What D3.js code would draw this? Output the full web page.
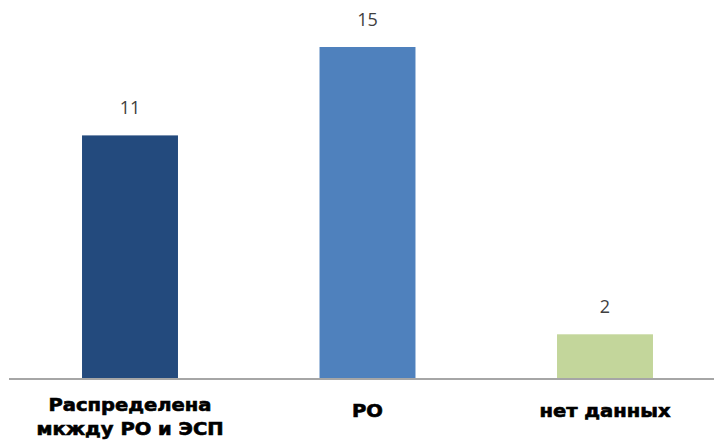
<!DOCTYPE html>
<html><head><meta charset="utf-8">
<script src="https://cdn.jsdelivr.net/npm/d3@7"></script>
<style>html,body{margin:0;padding:0;background:#fff;}svg{display:block;}</style>
</head><body>
<svg id="c" width="714" height="443"></svg>
<script>
const categories = [["Распределена", "мкжду РО и ЭСП"], ["РО"], ["нет данных"]];
const values = [11, 15, 2];
const colors = ["#234A7D", "#4F81BD", "#C3D69B"];

const svg = d3.select("#c");
const baseY = 378.5;
const x = d3.scaleBand().domain(d3.range(values.length)).range([11.25, 723.75]).paddingInner(0.596).paddingOuter(0.298);
const y = d3.scaleLinear().domain([0, 15]).range([baseY, 47]);

svg.selectAll("rect.bar").data(values).join("rect")
  .attr("class", "bar")
  .attr("x", (d, i) => x(i))
  .attr("width", x.bandwidth())
  .attr("y", d => y(d))
  .attr("height", d => baseY - y(d))
  .attr("fill", (d, i) => colors[i]);

svg.append("line").attr("x1", 9).attr("x2", 714).attr("y1", baseY + 0.5).attr("y2", baseY + 0.5)
  .attr("stroke", "#a6a6a6").attr("stroke-width", 2);

svg.selectAll("text.val").data(values).join("text")
  .attr("class", "val")
  .attr("x", (d, i) => x(i) + x.bandwidth() / 2)
  .attr("y", d => y(d) - 26)
  .attr("text-anchor", "middle")
  .attr("dominant-baseline", "middle")
  .attr("font-family", "Open Sans, sans-serif")
  .attr("font-size", 18)
  .attr("fill", "#404040")
  .text(d => d);

const lab = svg.selectAll("g.cat").data(categories).join("g")
  .attr("class", "cat")
  .attr("transform", (d, i) => `translate(${x(i) + x.bandwidth() / 2},0) scale(1.15,1)`);
lab.append("text")
  .attr("text-anchor", "middle")
  .attr("font-family", "DejaVu Sans, sans-serif")
  .attr("font-weight", "bold")
  .attr("font-size", 17)
  .attr("fill", "#000")
  .attr("stroke", "#000")
  .attr("stroke-width", 0.6)
  .selectAll("tspan").data(d => d.map((t, j) => ({t, j, n: d.length}))).join("tspan")
  .attr("x", 0)
  .attr("y", d => (d.n > 1 ? 411 : 417) + d.j * 24)
  .text(d => d.t);
</script>
</body></html>
